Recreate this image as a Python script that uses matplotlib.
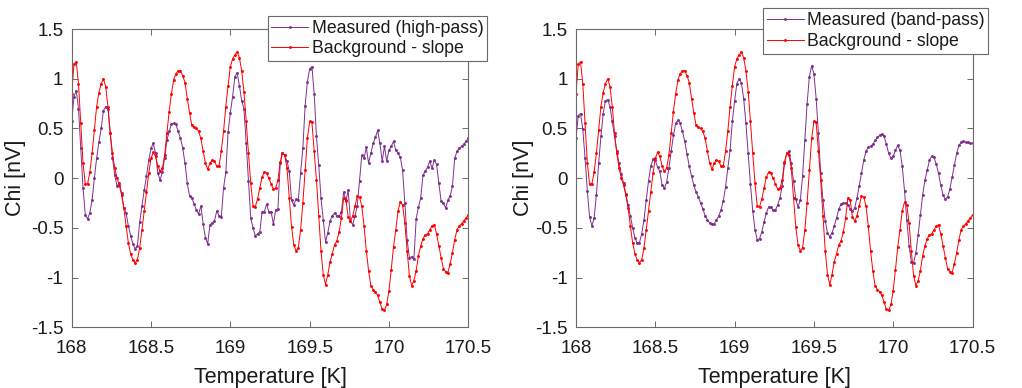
import numpy as np
import matplotlib
matplotlib.use("Agg")
import matplotlib.pyplot as plt

plt.rcParams['font.family'] = ['Liberation Sans', 'DejaVu Sans']

# ---------------- data ----------------
t_start, t_end, n_pts = 168.0, 170.5, 176
temperature = np.linspace(t_start, t_end, n_pts)

background_slope = [
    0.85, 1.15, 1.17, 0.95, 0.55, 0.15, -0.06, -0.06, 0.06, 0.25, 0.48, 0.72, 0.86, 0.95, 1.0,
    0.92, 0.72, 0.45, 0.25, 0.1, 0.0, -0.07, -0.17, -0.3, -0.48, -0.65, -0.76, -0.82, -0.85,
    -0.82, -0.7, -0.52, -0.33, -0.14, 0.05, 0.2, 0.26, 0.22, 0.12, 0.07, 0.1, 0.23, 0.45, 0.67,
    0.85,
    0.99, 1.05, 1.08, 1.08, 1.03, 0.96, 0.8, 0.66, 0.53, 0.51, 0.5, 0.47, 0.4, 0.27, 0.15, 0.09,
    0.15, 0.18, 0.17, 0.12, 0.12, 0.27, 0.47, 0.72, 0.93, 1.12, 1.2, 1.24, 1.27, 1.21, 1.08,
    0.87, 0.57, 0.25, -0.05, -0.28, -0.29, -0.21, -0.1, 0.01, 0.06, 0.05, 0.0, -0.06, -0.11,
    -0.1, -0.02, 0.16, 0.25,
    0.23, 0.1, -0.2, -0.49, -0.67, -0.73, -0.7, -0.52, -0.25, 0.08, 0.4, 0.57, 0.56, 0.27,
    -0.02, -0.38, -0.73, -0.97, -1.07, -0.97, -0.84, -0.76, -0.67, -0.63, -0.54, -0.4, -0.2,
    -0.22, -0.39, -0.43, -0.38, -0.28, -0.18, -0.19, -0.28, -0.48, -0.73, -0.93, -1.08, -1.12,
    -1.14, -1.18, -1.25, -1.32, -1.33, -1.27, -1.13, -0.92, -0.69,
    -0.52, -0.33, -0.24, -0.27, -0.45, -0.73, -0.98, -1.08, -1.03, -0.93, -0.78, -0.68, -0.61,
    -0.57, -0.56, -0.52, -0.48, -0.47, -0.56, -0.68, -0.8, -0.91, -0.94, -0.95, -0.86, -0.75,
    -0.62, -0.52, -0.48, -0.46, -0.43, -0.4, -0.37,
]

measured_highpass = [
    0.57, 0.82, 0.88, 0.7, 0.3, -0.1, -0.37, -0.41, -0.35, -0.22, 0.0, 0.2, 0.36, 0.5, 0.68,
    0.72, 0.7, 0.45, 0.2, 0.03, -0.08, -0.05, -0.15, -0.3, -0.35, -0.48, -0.58, -0.66, -0.71,
    -0.68, -0.44, -0.28, -0.12, 0.02, 0.18, 0.3, 0.35, 0.25, 0.05, -0.02, 0.06, 0.2, 0.38, 0.47,
    0.54,
    0.55, 0.54, 0.47, 0.4, 0.3, 0.15, -0.05, -0.18, -0.2, -0.26, -0.32, -0.36, -0.28, -0.46,
    -0.6, -0.66, -0.47, -0.45, -0.43, -0.33, -0.38, -0.39, -0.1, 0.06, 0.46, 0.66, 0.82, 1.02,
    1.06, 0.93, 0.78, 0.7, 0.35, -0.03, -0.4, -0.5, -0.58, -0.56, -0.54, -0.34, -0.34, -0.26,
    -0.34, -0.34, -0.46, -0.32, -0.31, 0.15, 0.25,
    0.23, 0.17, 0.07, -0.22, -0.27, -0.21, -0.22, 0.05, 0.3, 0.73, 0.97, 1.1, 1.12, 0.85, 0.42,
    0.13, -0.2, -0.42, -0.64, -0.55, -0.43, -0.38, -0.35, -0.38, -0.38, -0.34, -0.14, -0.23,
    -0.12, -0.43, -0.47, -0.38, -0.28, -0.03, 0.23, 0.2, 0.31, 0.15, 0.25, 0.35, 0.41, 0.48,
    0.35, 0.17, 0.32, 0.17, 0.28, 0.32, 0.37,
    0.28, 0.25, 0.21, 0.08, -0.25, -0.62, -0.8, -0.79, -0.81, -0.41, -0.29, -0.2, 0.03, 0.07,
    0.11, 0.17, 0.1, 0.18, 0.14, -0.05, -0.23, -0.25, -0.3, -0.22, -0.18, -0.08, 0.2, 0.27,
    0.3, 0.32, 0.34, 0.37, 0.4,
]

measured_bandpass = [
    0.4, 0.63, 0.65, 0.49, 0.2, -0.13, -0.39, -0.48, -0.4, -0.17, 0.15, 0.42, 0.65, 0.78, 0.79,
    0.72, 0.57, 0.42, 0.27, 0.15, 0.04, -0.05, -0.16, -0.27, -0.38, -0.5, -0.6, -0.65, -0.65,
    -0.56, -0.42, -0.22, -0.03, 0.12, 0.19, 0.18, 0.11, 0.07, -0.07, -0.1, -0.04, 0.1, 0.27,
    0.43, 0.55,
    0.58, 0.55, 0.47, 0.37, 0.24, 0.12, 0.02, -0.07, -0.14, -0.19, -0.25, -0.31, -0.38, -0.42,
    -0.45, -0.46, -0.46, -0.42, -0.38, -0.32, -0.23, -0.09, 0.1, 0.28, 0.57, 0.78, 0.95, 1.0,
    0.96, 0.8, 0.55, 0.25, -0.06, -0.33, -0.52, -0.62, -0.61, -0.54, -0.44, -0.35, -0.29,
    -0.29, -0.32, -0.32, -0.27, -0.2, -0.08, 0.15, 0.25,
    0.27, 0.15, -0.03, -0.21, -0.29, -0.22, 0.02, 0.38, 0.75, 1.02, 1.13, 1.05, 0.8, 0.45,
    0.05, -0.22, -0.43, -0.55, -0.59, -0.55, -0.48, -0.4, -0.31, -0.26, -0.25, -0.25, -0.27,
    -0.31, -0.33, -0.3, -0.2, -0.08, 0.05, 0.18, 0.27, 0.31, 0.32, 0.34, 0.38, 0.41, 0.43,
    0.44, 0.42, 0.34, 0.25, 0.2, 0.22, 0.28, 0.33,
    0.28, 0.12, -0.13, -0.42, -0.68, -0.84, -0.85, -0.75, -0.57, -0.37, -0.17, -0.02, 0.08,
    0.18, 0.22, 0.21, 0.14, 0.05, -0.07, -0.17, -0.21, -0.19, -0.11, 0.01, 0.13, 0.25, 0.33,
    0.36, 0.37, 0.36, 0.36, 0.35, 0.35,
]

x_ticks = [168, 168.5, 169, 169.5, 170, 170.5]
x_tick_labels = ["168", "168.5", "169", "169.5", "170", "170.5"]
y_ticks = [-1.5, -1, -0.5, 0, 0.5, 1, 1.5]
y_tick_labels = ["-1.5", "-1", "-0.5", "0", "0.5", "1", "1.5"]

labels_left = ["Measured (high-pass)", "Background - slope"]
labels_right = ["Measured (band-pass)", "Background - slope"]

# ---------------- style ----------------
PURPLE = '#7E2F8E'
RED = '#FF0000'
SPINE = '#6a6a6a'
TEXT = '#1a1a1a'

W, H = 1022, 388
fig = plt.figure(figsize=(W / 100, H / 100), dpi=100)

ax_h = (327.3 - 29.0) / H
ax_b = 1 - 327.3 / H
ax1 = fig.add_axes([71.7 / W, ax_b, 396.6 / W, ax_h])
ax2 = fig.add_axes([576.0 / W, ax_b, 396.5 / W, ax_h])


def style_axes(ax, ylab_x):
    ax.set_xlim(t_start, t_end)
    ax.set_ylim(-1.5, 1.5)
    ax.set_xticks(x_ticks)
    ax.set_xticklabels(x_tick_labels)
    ax.set_yticks(y_ticks)
    ax.set_yticklabels(y_tick_labels)
    ax.tick_params(direction='in', length=4, width=0.7, color=SPINE,
                   top=True, right=True, labelsize=13.5, labelcolor=TEXT)
    ax.tick_params(axis='x', pad=9.5)
    ax.tick_params(axis='y', pad=6)
    for s in ax.spines.values():
        s.set_color(SPINE)
        s.set_linewidth(0.8)
    ax.set_xlabel("Temperature [K]", fontsize=15.5, color=TEXT)
    ax.set_ylabel("Chi [nV]", fontsize=15.5, color=TEXT)
    ax.xaxis.set_label_coords(0.5, -0.133)
    ax.yaxis.set_label_coords(ylab_x, 0.5)


def draw(ax, measured, labels, legend_anchor):
    l1, = ax.plot(temperature, measured, color=PURPLE, lw=0.7, marker='o',
                  ms=2.1, mew=0, label=labels[0])
    l2, = ax.plot(temperature, background_slope, color=RED, lw=0.7, marker='o',
                  ms=2.1, mew=0, label=labels[1])
    leg = ax.legend(handles=[l1, l2], loc='upper right',
                    bbox_to_anchor=legend_anchor, bbox_transform=fig.transFigure,
                    fontsize=12.7, frameon=True, fancybox=False, shadow=False,
                    framealpha=1, edgecolor=SPINE, borderpad=0.22,
                    handlelength=2.1, handletextpad=0.18, labelspacing=0.2,
                    borderaxespad=0, markerfirst=True, numpoints=1)
    leg.get_frame().set_linewidth(0.8)
    for t in leg.get_texts():
        t.set_color(TEXT)


style_axes(ax1, -0.114)
style_axes(ax2, -0.106)
draw(ax1, measured_highpass, labels_left, (487.3 / W, 1 - 16.0 / H))
draw(ax2, measured_bandpass, labels_right, (988.3 / W, 1 - 8.3 / H))

fig.savefig("out.png", dpi=100)
